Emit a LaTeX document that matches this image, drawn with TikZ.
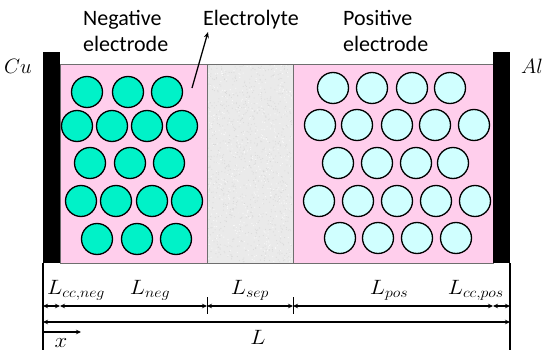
\documentclass[tikz,border=0pt]{standalone}
\usepackage{fontspec}
\setmainfont{Carlito}
\usetikzlibrary{arrows.meta}
\definecolor{pinkfill}{RGB}{255,206,236}
\definecolor{negfill}{RGB}{0,242,200}
\definecolor{posfill}{RGB}{208,255,255}
\definecolor{sepfill}{RGB}{234,234,234}
\definecolor{edgegray}{RGB}{110,110,110}
\begin{document}
\begin{tikzpicture}[x=1pt,y=-1pt,
  negpart/.style={circle,draw=black,fill=negfill,line width=1.3pt,minimum size=31pt,inner sep=0pt},
  pospart/.style={circle,draw=black,fill=posfill,line width=1.3pt,minimum size=31pt,inner sep=0pt},
  lbl/.style={font=\fontsize{22}{27}\selectfont,inner sep=0pt},
  mlbl/.style={font=\fontsize{21}{24}\selectfont,inner sep=0pt,xscale=1.1,transform shape},
  ccbar/.style={fill=black,draw=none},
  dimline/.style={line width=1.2pt,{Stealth[length=5pt,width=4.5pt]}-{Stealth[length=5pt,width=4.5pt]}},
  guide/.style={line width=1.5pt},
  tick/.style={line width=0.9pt}]
\useasboundingbox (0,0) rectangle (550,356);
% regions
\path[fill=pinkfill,draw=edgegray,line width=0.8pt] (60,64) rectangle (493,263);
\path[fill=sepfill,draw=edgegray,line width=0.8pt] (207,64) rectangle (293,263);
\begin{scope}
\clip (208,65) rectangle (292,262);
\pgfmathsetseed{11}
\foreach \i in {1,...,900}{
  \pgfmathsetmacro{\px}{208+84*rnd}
  \pgfmathsetmacro{\py}{65+197*rnd}
  \fill[gray!45,opacity=0.45] (\px,\py) circle (0.55pt);
}
\foreach \i in {1,...,500}{
  \pgfmathsetmacro{\px}{208+84*rnd}
  \pgfmathsetmacro{\py}{65+197*rnd}
  \fill[white,opacity=0.7] (\px,\py) circle (0.6pt);
}
\end{scope}
\draw[edgegray,line width=0.8pt] (207,64) rectangle (293,263);
% current collectors
\path[ccbar] (43,52) rectangle (60,263);
\path[ccbar] (493,52) rectangle (510,263);
% negative particles
\foreach \x [count=\k] in {87,128,167} \node[negpart] (na\k) at (\x,92) {};
\foreach \x [count=\k] in {77,112,147,182} \node[negpart] (nb\k) at (\x,126) {};
\foreach \x [count=\k] in {90,130,169} \node[negpart] (nc\k) at (\x,163) {};
\foreach \x [count=\k] in {81,116,152,187} \node[negpart] (nd\k) at (\x,201) {};
\foreach \x [count=\k] in {97,137,176} \node[negpart] (ne\k) at (\x,239) {};
% positive particles
\foreach \x [count=\k] in {333,372,412,450} \node[pospart] (pa\k) at (\x,88) {};
\foreach \x [count=\k] in {320,357,397,435,474} \node[pospart] (pb\k) at (\x,125) {};
\foreach \x [count=\k] in {338,377,416,453} \node[pospart] (pc\k) at (\x,163) {};
\foreach \x [count=\k] in {319,358,397,436,475} \node[pospart] (pd\k) at (\x,201) {};
\foreach \x [count=\k] in {340,378,417,456} \node[pospart] (pe\k) at (\x,238) {};
% top labels
\node[lbl,anchor=base west] (neg1) at (83,25) {Negative};
\node[lbl,anchor=base west] (neg2) at (83,52) {electrode};
\node[lbl,anchor=base west] (ely) at (203,25) {Electrolyte};
\node[lbl,anchor=base west] (pos1) at (343,25) {Positive};
\node[lbl,anchor=base west] (pos2) at (343,52) {electrode};
\coordinate (elyfoot) at (192,88);
\coordinate (elytip) at (208,32);
\draw[line width=1.3pt,-{Stealth[length=6pt,width=5pt]}] (elyfoot) -- (elytip);
\node[font=\fontsize{22}{24}\selectfont,inner sep=0pt,anchor=base] (cu) at (18,74) {$Cu$};
\node[font=\fontsize{22}{24}\selectfont,inner sep=0pt,anchor=base] (al) at (532,74) {$Al$};
% guide lines
\coordinate (gl0) at (43,263);
\coordinate (gl1) at (43,350);
\coordinate (gr0) at (510,263);
\coordinate (gr1) at (510,350);
\draw[guide] (gl0) -- (gl1);
\draw[guide] (gr0) -- (gr1);
% dimension points
\coordinate (d0) at (43,306);
\coordinate (d1) at (60,306);
\coordinate (d2) at (207,306);
\coordinate (d3) at (293,306);
\coordinate (d4) at (493,306);
\coordinate (d5) at (510,306);
\draw[tick] (207,297) -- (207,314);
\draw[tick] (293,297) -- (293,314);
\draw[dimline] (d0) -- (d1);
\draw[dimline] (d1) -- (d2);
\draw[dimline] (d2) -- (d3);
\draw[dimline] (d3) -- (d4);
\draw[dimline] (d4) -- (d5);
\coordinate (t0) at (43,322);
\coordinate (t1) at (510,322);
\draw[dimline] (t0) -- (t1);
\coordinate (x0) at (43,332);
\coordinate (x1) at (81,332);
\draw[line width=1.2pt,-{Stealth[length=5pt,width=4.5pt]}] (x0) -- (x1);
% dimension labels
\node[mlbl,anchor=base west] (lccn) at (47,294) {$L_{cc,neg}$};
\node[mlbl,anchor=base] (lneg) at (150,294) {$L_{neg}$};
\node[mlbl,anchor=base] (lsep) at (250,294) {$L_{sep}$};
\node[mlbl,anchor=base] (lpos) at (389,294) {$L_{pos}$};
\node[mlbl,anchor=base east] (lccp) at (504,294) {$L_{cc,pos}$};
\node[mlbl,anchor=base] (ltot) at (258,344) {$L$};
\node[mlbl,anchor=base] (xlbl) at (61,347) {$x$};
\end{tikzpicture}
\end{document}
